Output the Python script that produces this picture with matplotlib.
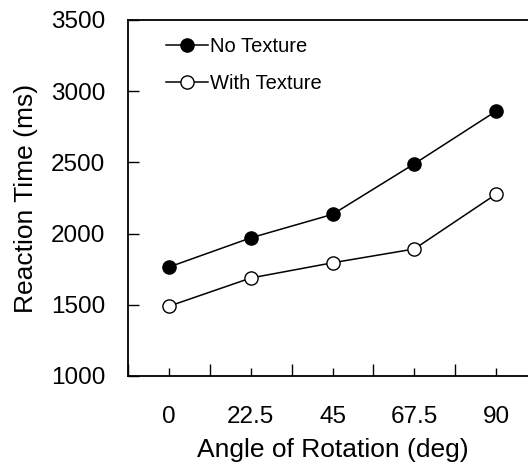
import matplotlib
matplotlib.use("Agg")
import matplotlib.pyplot as plt
from matplotlib.ticker import FixedLocator

plt.rcParams['font.family'] = ['Liberation Sans', 'DejaVu Sans']

angles = ["0", "22.5", "45", "67.5", "90"]
no_texture = [1765, 1970, 2135, 2490, 2860]
with_texture = [1490, 1688, 1795, 1892, 2277]
y_ticks = [1000, 1500, 2000, 2500, 3000, 3500]

fig = plt.figure(figsize=(5.28, 4.66), dpi=100)
ax = fig.add_axes([128 / 528, 90 / 466, 409 / 528, 356 / 466])

x = list(range(len(angles)))
ax.plot(x, no_texture, color='black', lw=1.1, marker='o', ms=9.5,
        mfc='black', mec='black', mew=1.0, label='No Texture', clip_on=False)
ax.plot(x, with_texture, color='black', lw=1.1, marker='o', ms=9.5,
        mfc='white', mec='black', mew=1.0, label='With Texture', clip_on=False)

ax.set_xlim(-0.5, len(angles) - 0.5)
ax.set_ylim(1000, 3500)
ax.set_yticks(y_ticks)
ax.set_xticks(x)
ax.set_xticklabels(angles)
ax.xaxis.set_minor_locator(FixedLocator([i + 0.5 for i in range(-1, len(angles))]))

ax.tick_params(axis='x', which='major', direction='in', length=6, width=1.0,
               pad=21.5, labelsize=17.5)
ax.tick_params(axis='x', which='minor', direction='in', length=9, width=1.0)
ax.tick_params(axis='y', which='major', direction='in', length=8, width=1.0,
               pad=16.5, labelsize=17.5)

for side in ('left', 'bottom', 'top'):
    ax.spines[side].set_linewidth(1.3)
ax.spines['right'].set_visible(False)

ax.set_xlabel('Angle of Rotation (deg)', fontsize=19, labelpad=7.5)
ax.set_ylabel('Reaction Time (ms)', fontsize=19, labelpad=9.5)

ax.legend(loc='upper left', frameon=False, fontsize=14.5, handlelength=2.1,
          handletextpad=0.1, labelspacing=0.9, borderaxespad=0.0,
          bbox_to_anchor=(0.073, 0.975))

fig.savefig('out.png', dpi=100)
